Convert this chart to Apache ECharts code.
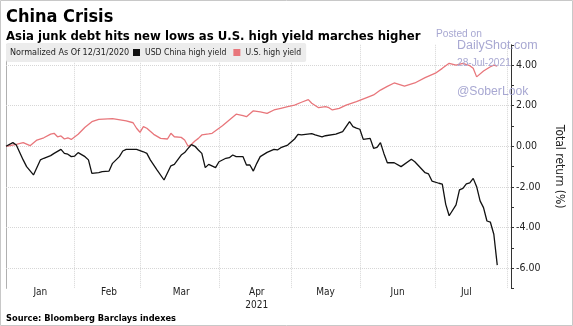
<!DOCTYPE html>
<html>
<head>
<meta charset="utf-8">
<script src="https://cdn.jsdelivr.net/npm/echarts@6/dist/echarts.min.js"></script>
<style>
  html, body { margin: 0; padding: 0; background: #fff; }
  #chart { width: 573px; height: 326px; }
</style>
</head>
<body>
<div id="chart"></div>
<script>
// Trading-day calendar for the x axis
const firstDay = '2020-12-31';
const lastDay = '2021-08-03';
const holidays = ['2021-01-01', '2021-01-18', '2021-02-15', '2021-04-02', '2021-05-31', '2021-07-05'];
const monthNames = ['Jan', 'Feb', 'Mar', 'Apr', 'May', 'Jun', 'Jul', 'Aug', 'Sep', 'Oct', 'Nov', 'Dec'];

// Total return since 12/31/2020 (%)
const chinaHY = [
  ['2020-12-31', 0.00], ['2021-01-05', 0.18], ['2021-01-06', 0.06], ['2021-01-08', -0.67],
  ['2021-01-11', -1.00], ['2021-01-13', -1.41], ['2021-01-15', -0.67], ['2021-01-19', -0.59],
  ['2021-01-21', -0.46], ['2021-01-22', -0.35], ['2021-01-26', -0.15], ['2021-01-27', -0.35],
  ['2021-01-28', -0.39], ['2021-01-29', -0.51], ['2021-02-01', -0.48], ['2021-02-02', -0.31],
  ['2021-02-04', -0.51], ['2021-02-05', -0.67], ['2021-02-08', -1.33], ['2021-02-10', -1.30],
  ['2021-02-11', -1.25], ['2021-02-16', -1.22], ['2021-02-17', -0.84], ['2021-02-19', -0.51],
  ['2021-02-22', -0.23], ['2021-02-23', -0.15], ['2021-02-26', -0.15], ['2021-03-02', -0.27],
  ['2021-03-03', -0.35], ['2021-03-04', -0.67], ['2021-03-08', -1.17], ['2021-03-10', -1.66],
  ['2021-03-12', -0.96], ['2021-03-15', -0.89], ['2021-03-17', -0.43], ['2021-03-18', -0.31],
  ['2021-03-19', -0.10], ['2021-03-22', 0.08], ['2021-03-23', 0.00], ['2021-03-24', -0.18],
  ['2021-03-25', -0.35], ['2021-03-26', -1.05], ['2021-03-29', -0.89], ['2021-03-31', -1.05],
  ['2021-04-01', -0.76], ['2021-04-06', -0.59], ['2021-04-07', -0.56], ['2021-04-08', -0.43],
  ['2021-04-09', -0.51], ['2021-04-13', -0.51], ['2021-04-14', -0.92], ['2021-04-15', -0.92],
  ['2021-04-16', -1.22], ['2021-04-19', -0.84], ['2021-04-20', -0.51], ['2021-04-22', -0.30],
  ['2021-04-26', -0.15], ['2021-04-27', -0.18], ['2021-04-28', -0.07], ['2021-04-30', 0.06],
  ['2021-05-04', 0.36], ['2021-05-05', 0.59], ['2021-05-06', 0.56], ['2021-05-11', 0.62],
  ['2021-05-12', 0.56], ['2021-05-14', 0.47], ['2021-05-17', 0.52], ['2021-05-20', 0.60],
  ['2021-05-24', 0.72], ['2021-05-26', 1.21], ['2021-05-27', 0.97], ['2021-05-28', 0.90],
  ['2021-06-01', 0.84], ['2021-06-02', 0.34], ['2021-06-04', 0.39], ['2021-06-07', -0.10],
  ['2021-06-08', -0.05], ['2021-06-09', 0.18], ['2021-06-10', -0.35], ['2021-06-11', -0.81],
  ['2021-06-15', -0.81], ['2021-06-17', -1.00], ['2021-06-22', -0.64], ['2021-06-23', -0.76],
  ['2021-06-28', -1.30], ['2021-06-29', -1.36], ['2021-06-30', -1.71], ['2021-07-02', -1.82],
  ['2021-07-06', -1.86], ['2021-07-07', -2.86], ['2021-07-08', -3.42], ['2021-07-12', -2.89],
  ['2021-07-13', -2.15], ['2021-07-14', -2.07], ['2021-07-15', -1.85], ['2021-07-16', -1.80],
  ['2021-07-19', -1.58], ['2021-07-20', -1.99], ['2021-07-21', -2.69], ['2021-07-22', -3.02],
  ['2021-07-23', -3.68], ['2021-07-26', -3.74], ['2021-07-27', -4.33], ['2021-07-28', -5.85]
];

const usHY = [
  ['2020-12-31', 0.00], ['2021-01-06', 0.10], ['2021-01-08', 0.18], ['2021-01-12', 0.03],
  ['2021-01-14', 0.31], ['2021-01-19', 0.42], ['2021-01-21', 0.60], ['2021-01-22', 0.64],
  ['2021-01-25', 0.47], ['2021-01-26', 0.51], ['2021-01-27', 0.36], ['2021-01-28', 0.42],
  ['2021-01-29', 0.34], ['2021-02-02', 0.59], ['2021-02-04', 0.94], ['2021-02-08', 1.21],
  ['2021-02-10', 1.33], ['2021-02-17', 1.36], ['2021-02-23', 1.25], ['2021-02-25', 1.16],
  ['2021-02-26', 0.89], ['2021-03-01', 0.69], ['2021-03-02', 0.97], ['2021-03-03', 0.89],
  ['2021-03-05', 0.59], ['2021-03-09', 0.39], ['2021-03-11', 0.36], ['2021-03-12', 0.64],
  ['2021-03-15', 0.47], ['2021-03-17', 0.44], ['2021-03-18', 0.31], ['2021-03-19', 0.00],
  ['2021-03-22', 0.10], ['2021-03-23', 0.26], ['2021-03-24', 0.39], ['2021-03-25', 0.56],
  ['2021-03-29', 0.61], ['2021-03-30', 0.64], ['2021-04-05', 1.01], ['2021-04-07', 1.30],
  ['2021-04-09', 1.58], ['2021-04-13', 1.51], ['2021-04-14', 1.46], ['2021-04-16', 1.75],
  ['2021-04-20', 1.70], ['2021-04-22', 1.62], ['2021-04-26', 1.79], ['2021-04-28', 1.87],
  ['2021-04-30', 1.95], ['2021-05-04', 2.03], ['2021-05-06', 2.17], ['2021-05-10', 2.30],
  ['2021-05-11', 2.12], ['2021-05-13', 1.90], ['2021-05-17', 1.95], ['2021-05-18', 1.90],
  ['2021-05-19', 1.79], ['2021-05-21', 1.87], ['2021-05-25', 2.03], ['2021-05-28', 2.20],
  ['2021-06-03', 2.40], ['2021-06-07', 2.53], ['2021-06-09', 2.77], ['2021-06-11', 2.95],
  ['2021-06-15', 3.12], ['2021-06-18', 2.97], ['2021-06-23', 3.12], ['2021-06-28', 3.38],
  ['2021-07-01', 3.60], ['2021-07-06', 3.84], ['2021-07-08', 4.09], ['2021-07-12', 4.00],
  ['2021-07-14', 4.09], ['2021-07-16', 3.97], ['2021-07-19', 3.84], ['2021-07-20', 3.42],
  ['2021-07-22', 3.71], ['2021-07-26', 3.92], ['2021-07-27', 4.00], ['2021-07-28', 3.95]
];

// Value axis: range, tick step and the levels that carry dotted gridlines
const yMin = -7;
const yMax = 5;
const yStep = 1;
const gridLevels = [-6, -4, -2, 0, 2, 4];

// Build the list of trading days
function buildTradingDays(from, to, skip) {
  const out = [];
  const d = new Date(from + 'T00:00:00Z');
  const end = new Date(to + 'T00:00:00Z');
  while (d <= end) {
    const wd = d.getUTCDay();
    const s = d.toISOString().slice(0, 10);
    if (wd !== 0 && wd !== 6 && skip.indexOf(s) < 0) out.push(s);
    d.setUTCDate(d.getUTCDate() + 1);
  }
  return out;
}
const days = buildTradingDays(firstDay, lastDay, holidays);

// First trading day of each month; the year-end base date opens the January span
const monthStarts = [];
for (let i = 2; i < days.length; i++) {
  if (days[i].slice(5, 7) !== days[i - 1].slice(5, 7)) monthStarts.push(i);
}
const lastDataIdx = days.indexOf(chinaHY[chinaHY.length - 1][0]);
const labelIdx = {};
const bounds = [0].concat(monthStarts.filter(i => i <= lastDataIdx), [lastDataIdx]);
for (let k = 0; k < bounds.length - 1; k++) {
  const mid = Math.round((bounds[k] + bounds[k + 1]) / 2);
  labelIdx[mid] = true;
}
const startSet = {};
monthStarts.forEach(i => { startSet[i] = true; });

const FONT = '"DejaVu Sans Condensed", "DejaVu Sans", sans-serif';
const MARK = '"Liberation Sans", Arial, sans-serif';
const WM = '#a8a8d2';

const chart = echarts.init(document.getElementById('chart'), null, { renderer: 'canvas' });

chart.setOption({
  animation: false,
  backgroundColor: '#ffffff',
  grid: { left: 6, right: 56.3, top: 44.8, bottom: 37.6, containLabel: false },
  legend: {
    left: 6,
    top: 43,
    padding: [5, 5, 5, 127],
    backgroundColor: '#ececec',
    borderRadius: 2,
    icon: 'rect',
    itemWidth: 7,
    itemHeight: 7,
    itemGap: 7,
    textStyle: { fontFamily: FONT, fontSize: 8.6, color: '#222' },
    data: ['USD China high yield', 'U.S. high yield']
  },
  xAxis: {
    type: 'category',
    data: days,
    boundaryGap: false,
    axisLine: { show: false },
    axisTick: { show: false },
    axisLabel: {
      interval: (idx) => !!labelIdx[idx],
      formatter: (v) => {
        const m = monthNames[parseInt(v.slice(5, 7), 10) - 1];
        return m === 'Apr' ? m + '\n' + v.slice(0, 4) : m;
      },
      fontFamily: FONT,
      fontSize: 10,
      lineHeight: 13.5,
      color: '#222',
      margin: -3
    },
    splitLine: {
      show: true,
      interval: (idx) => !!startSet[idx],
      lineStyle: { color: '#d6d6d6', type: 'dotted', width: 1 }
    }
  },
  yAxis: [
    {
      type: 'value',
      position: 'right',
      min: yMin,
      max: yMax,
      interval: yStep,
      axisLine: { show: true, lineStyle: { color: '#333', width: 1 } },
      axisTick: { show: true, length: 3, inside: false, lineStyle: { color: '#333' } },
      axisLabel: {
        formatter: (v) => (Math.abs(v % 2) < 1e-9 ? v.toFixed(2) : ''),
        fontFamily: FONT,
        fontSize: 10.5,
        color: '#222',
        margin: 5
      },
      splitLine: { show: false },
      name: 'Total return (%)',
      nameLocation: 'middle',
      nameRotate: -90,
      nameGap: 42,
      nameTextStyle: { fontFamily: FONT, fontSize: 12, color: '#222' }
    },
    {
      type: 'value',
      position: 'left',
      min: yMin,
      max: yMax,
      interval: yStep,
      axisLine: { show: true, lineStyle: { color: '#b0b0b0', width: 1 } },
      axisTick: { show: false },
      axisLabel: { show: false },
      splitLine: { show: false }
    }
  ],
  series: [
    {
      name: 'U.S. high yield',
      type: 'line',
      data: usHY,
      yAxisIndex: 0,
      showSymbol: false,
      symbol: 'none',
      color: '#e8767b',
      lineStyle: { color: '#e8767b', width: 1.3 },
      z: 3,
      markLine: {
        silent: true,
        symbol: 'none',
        label: { show: false },
        lineStyle: { color: '#d6d6d6', type: 'dotted', width: 1 },
        data: gridLevels.map(v => ({ yAxis: v })),
        z: 1
      }
    },
    {
      name: 'USD China high yield',
      type: 'line',
      data: chinaHY,
      yAxisIndex: 0,
      showSymbol: false,
      symbol: 'none',
      color: '#111',
      lineStyle: { color: '#111', width: 1.3 },
      z: 4
    }
  ],
  graphic: [
    {
      type: 'rect', silent: true, z: 100,
      shape: { x: 0.5, y: 0.5, width: 572, height: 325 },
      style: { fill: 'none', stroke: '#c8c8c8', lineWidth: 1 }
    },
    {
      type: 'text', left: 6, top: 8.5, silent: true,
      style: { text: 'China Crisis', font: 'bold 18px ' + FONT, fill: '#000' }
    },
    {
      type: 'text', left: 6, top: 30.5, silent: true,
      style: { text: 'Asia junk debt hits new lows as U.S. high yield marches higher', font: 'bold 13px ' + FONT, fill: '#000' }
    },
    {
      type: 'text', left: 10, top: 48, silent: true, z: 10,
      style: { text: 'Normalized As Of 12/31/2020', font: '9px ' + FONT, fill: '#222' }
    },
    {
      type: 'text', left: 6, top: 314, silent: true,
      style: { text: 'Source: Bloomberg Barclays indexes', font: 'bold 9.2px ' + FONT, fill: '#000' }
    },
    {
      type: 'text', left: 436, top: 29, silent: true, z: 20,
      style: { text: 'Posted on', font: '10.2px ' + MARK, fill: WM }
    },
    {
      type: 'text', left: 457, top: 39.5, silent: true, z: 20,
      style: { text: 'DailyShot.com', font: '12.5px ' + MARK, fill: WM }
    },
    {
      type: 'text', left: 457, top: 58.5, silent: true, z: 20,
      style: { text: '28-Jul-2021', font: '10.2px ' + MARK, fill: WM }
    },
    {
      type: 'text', left: 457, top: 86, silent: true, z: 20,
      style: { text: '@SoberLook', font: '12.2px ' + MARK, fill: WM }
    }
  ]
});
</script>
</body>
</html>
